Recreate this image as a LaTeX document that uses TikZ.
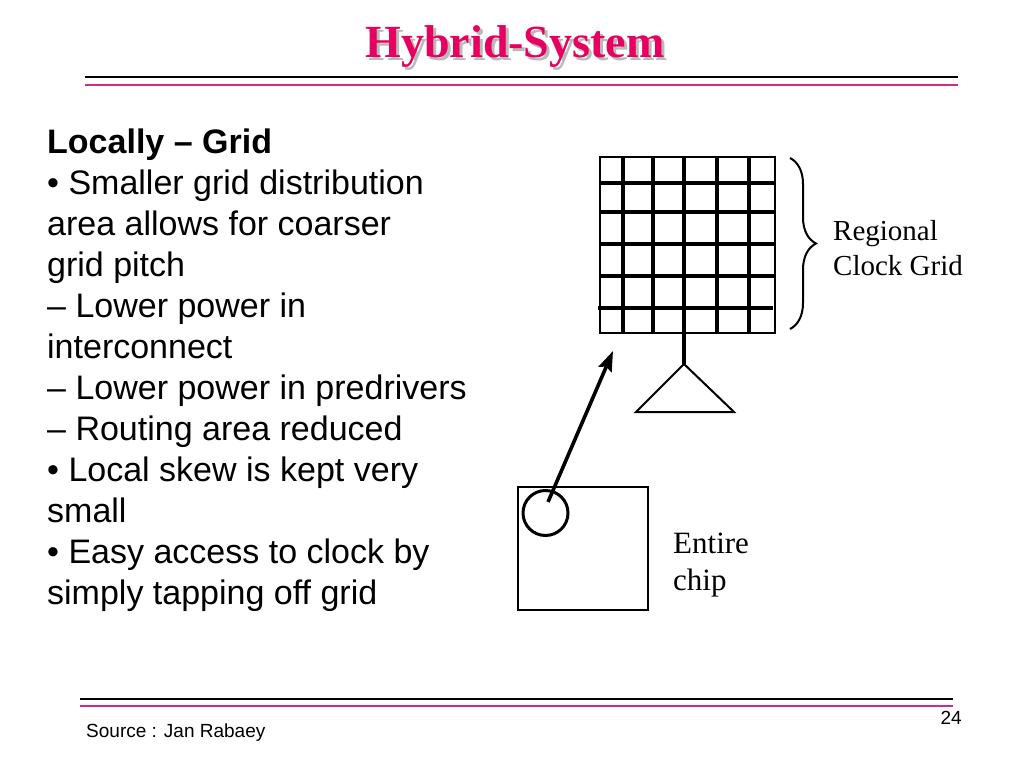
\documentclass[tikz,border=0pt]{standalone}
\usepackage{fontspec}
\setmainfont{Liberation Serif}
\setsansfont{Liberation Sans}
\usetikzlibrary{arrows.meta}
\usetikzlibrary{decorations.pathreplacing}

\definecolor{titlepink}{RGB}{232,0,96}
\definecolor{rulepink}{RGB}{214,40,130}
\definecolor{shadowgray}{RGB}{185,185,185}

\begin{document}
\begin{tikzpicture}[x = 1pt, y = -1pt]
	\tikzstyle{titleStyle} = [font = \fontsize{46}{46}\bfseries\selectfont, inner sep = 0pt]
	\tikzstyle{bodyStyle} = [font = \sffamily\fontsize{34}{41}\selectfont, align = left, inner sep = 0pt, anchor = north west]
	\tikzstyle{labelStyle} = [font = \fontsize{29}{35}\selectfont, align = left, inner sep = 0pt, anchor = west]
	\tikzstyle{footStyle} = [font = \sffamily\fontsize{19}{19}\selectfont, inner sep = 0pt]
	\tikzstyle{blackRule} = [line width = 1.5pt, black]
	\tikzstyle{pinkRule} = [line width = 1.5pt, rulepink]
	\tikzstyle{frameStyle} = [draw, line width = 2pt, inner sep = 0pt]
	\tikzstyle{wireStyle} = [line width = 3.6pt]
	\useasboundingbox (0, 0) rectangle (1024, 768);
	% title and rules
	\node[titleStyle, text = shadowgray] (titleShadow) at (518, 50) {Hybrid-System};
	\node[titleStyle, text = titlepink] (title) at (515, 47) {Hybrid-System};
	\coordinate (t1) at (85, 77);
	\coordinate (t2) at (958, 77);
	\coordinate (t3) at (85, 85);
	\coordinate (t4) at (958, 85);
	\draw[blackRule] (t1) -- (t2);
	\draw[pinkRule] (t3) -- (t4);
	% text on the left
	\node[bodyStyle] (body) at (47, 129) {\textbf{Locally -- Grid}\\
		\textbullet\ Smaller grid distribution\\
		area allows for coarser\\
		grid pitch\\
		-- Lower power in\\
		interconnect\\
		-- Lower power in predrivers\\
		-- Routing area reduced\\
		\textbullet\ Local skew is kept very\\
		small\\
		\textbullet\ Easy access to clock by\\
		simply tapping off grid};
	% regional clock grid
	\node[frameStyle, minimum width = 175pt, minimum height = 176pt] (grid) at (687.5, 245) {};
	\coordinate (h1a) at (600, 183);
	\coordinate (h1b) at (775, 183);
	\coordinate (h2a) at (600, 212);
	\coordinate (h2b) at (775, 212);
	\coordinate (h3a) at (600, 244);
	\coordinate (h3b) at (775, 244);
	\coordinate (h4a) at (600, 276);
	\coordinate (h4b) at (775, 276);
	\coordinate (h5a) at (598, 308);
	\coordinate (h5b) at (773, 308);
	\coordinate (v1a) at (623, 157);
	\coordinate (v1b) at (623, 333);
	\coordinate (v2a) at (653, 157);
	\coordinate (v2b) at (653, 333);
	\coordinate (v3a) at (684, 157);
	\coordinate (v3b) at (684, 333);
	\coordinate (v4a) at (717, 157);
	\coordinate (v4b) at (717, 333);
	\coordinate (v5a) at (749, 157);
	\coordinate (v5b) at (749, 333);
	\draw[wireStyle] (h1a) -- (h1b);
	\draw[wireStyle] (h2a) -- (h2b);
	\draw[wireStyle] (h3a) -- (h3b);
	\draw[wireStyle] (h4a) -- (h4b);
	\draw[wireStyle] (h5a) -- (h5b);
	\draw[wireStyle] (v1a) -- (v1b);
	\draw[wireStyle] (v2a) -- (v2b);
	\draw[wireStyle] (v3a) -- (v3b);
	\draw[wireStyle] (v4a) -- (v4b);
	\draw[wireStyle] (v5a) -- (v5b);
	% driver
	\coordinate (apex) at (684, 364);
	\coordinate (baseR) at (734, 412);
	\coordinate (baseL) at (636, 412);
	\draw[wireStyle] (v3b) -- (apex);
	\draw[line width = 2pt, line join = miter] (apex) -- (baseR) -- (baseL) -- cycle;
	% brace and label
	\coordinate (braceTop) at (790, 158);
	\coordinate (braceBot) at (790, 329);
	\draw[line width = 2pt, decorate, decoration = {brace, amplitude = 26pt, aspect = 0.5}] (braceTop) -- (braceBot);
	\node[labelStyle] (gridLabel) at (833, 248) {Regional\\Clock Grid};
	% entire chip
	\node[frameStyle, line width = 2.5pt, minimum width = 130pt, minimum height = 123pt] (chip) at (583, 548.5) {};
	\node[draw, circle, line width = 3pt, minimum size = 45pt, inner sep = 0pt] (tap) at (545.5, 513) {};
	\node[labelStyle, font = \fontsize{31}{37}\selectfont] (chipLabel) at (673, 565) {Entire\\chip};
	\coordinate (tapStart) at (548, 502);
	\coordinate (tapEnd) at (613, 351);
	\draw[line width = 3.6pt, -{Stealth[length = 20pt, width = 14pt, inset = 3pt]}] (tapStart) -- (tapEnd);
	% footer
	\coordinate (f1) at (80, 699);
	\coordinate (f2) at (953, 699);
	\coordinate (f3) at (80, 706);
	\coordinate (f4) at (953, 706);
	\draw[blackRule] (f1) -- (f2);
	\draw[pinkRule] (f3) -- (f4);
	\node[footStyle, anchor = west] (source) at (86, 733) {Source : Jan Rabaey};
	\node[footStyle, anchor = east] (page) at (962, 718) {24};
\end{tikzpicture}
\end{document}
